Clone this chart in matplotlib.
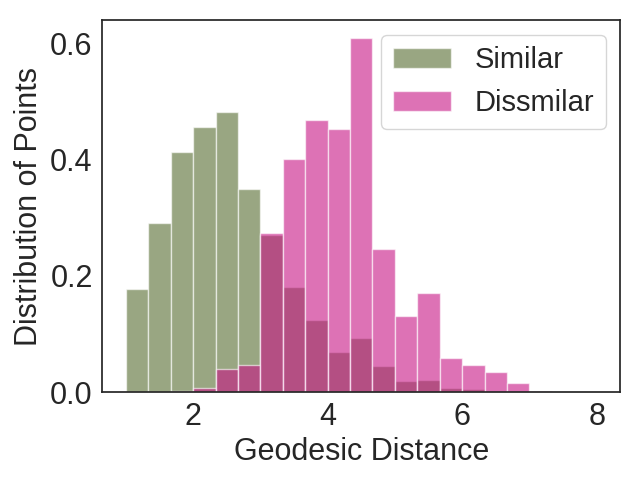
import numpy as np
import matplotlib
matplotlib.use("Agg")
import matplotlib.pyplot as plt
import seaborn as sns

# Histogram bins (density-normalised values)
bin_start = 1.0
bin_end = 8.0
n_bins = 21

similar = [0.178, 0.290, 0.413, 0.456, 0.482, 0.350, 0.270, 0.180, 0.1235,
           0.0686, 0.0926, 0.0446, 0.0189, 0.0206, 0.0072, 0.0048, 0.0,
           0.0, 0.0, 0.0, 0.0]
dissimilar = [0.0, 0.0, 0.002, 0.0072, 0.0395, 0.047, 0.274, 0.400, 0.468,
              0.453, 0.609, 0.2465, 0.1316, 0.170, 0.0583, 0.0463, 0.0343,
              0.0154, 0.0017, 0.0, 0.001]
labels = ["Similar", "Dissmilar"]
xlabel = "Geodesic Distance"
ylabel = "Distribution of Points"

sns.set_style("white")
plt.rcParams["font.family"] = ["Liberation Sans", "DejaVu Sans"]
plt.rcParams["text.color"] = "#262626"
plt.rcParams["axes.labelcolor"] = "#262626"
plt.rcParams["xtick.color"] = "#262626"
plt.rcParams["ytick.color"] = "#262626"

edges = np.linspace(bin_start, bin_end, n_bins + 1)
centers = (edges[:-1] + edges[1:]) / 2

fig, ax = plt.subplots(figsize=(6.4, 4.8), dpi=100)
ax.hist(centers, bins=edges, weights=similar, color="darkolivegreen",
        alpha=0.6, edgecolor="white", linewidth=1, label=labels[0])
ax.hist(centers, bins=edges, weights=dissimilar, color="mediumvioletred",
        alpha=0.6, edgecolor="white", linewidth=1, label=labels[1])

ax.set_xlabel(xlabel, fontsize=22)
ax.set_ylabel(ylabel, fontsize=22)
ax.tick_params(axis="both", labelsize=22)
ax.set_xticks([2, 4, 6, 8])
ax.set_yticks([0.0, 0.2, 0.4, 0.6])
for s in ax.spines.values():
    s.set_color("#262626")
    s.set_linewidth(1.25)
ax.legend(loc="upper right", fontsize=21)

fig.subplots_adjust(left=0.160, right=0.969, top=0.958, bottom=0.183)
fig.savefig("out.png", dpi=100)
